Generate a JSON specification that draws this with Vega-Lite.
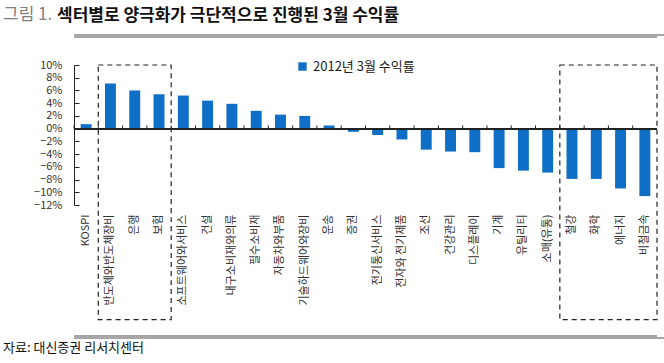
{
  "$schema": "https://vega.github.io/schema/vega-lite/v6.json",
  "padding": {"top": 6, "left": 0, "right": 0, "bottom": 0},
  "background": "white",
  "spacing": 0,
  "columns": 1,
  "align": "none",
  "title": {
    "text": "그림 1.",
    "anchor": "start",
    "frame": "group",
    "dx": -71,
    "offset": -17,
    "fontSize": 17,
    "fontWeight": "normal",
    "color": "#808080"
  },
  "config": {
    "view": {"stroke": null},
    "font": "Noto Sans CJK KR"
  },
  "concat": [
    {
      "width": 590,
      "height": 1,
      "data": {"values": [{"start": 0, "end": 1, "line": 1}]},
      "title": {
        "text": "섹터별로 양극화가 극단적으로 진행된 3월 수익률",
        "anchor": "start",
        "frame": "group",
        "dx": -17,
        "offset": 9,
        "fontSize": 17,
        "fontWeight": "bold",
        "color": "#111111"
      },
      "mark": {"type": "rule", "color": "#8a8a8a", "strokeWidth": 1.5, "clip": false},
      "encoding": {
        "x": {"field": "start", "type": "quantitative", "scale": {"domain": [0, 1]}, "axis": null},
        "x2": {"field": "end"},
        "y": {"field": "line", "type": "quantitative", "scale": {"domain": [0, 1]}, "axis": null}
      }
    },
    {
      "width": 583,
      "height": 140,
      "data": {"values": [
        {"sector": "KOSPI", "ret": 0.7},
        {"sector": "반도체와반도체장비", "ret": 7.1},
        {"sector": "은행", "ret": 6.0},
        {"sector": "보험", "ret": 5.4},
        {"sector": "소프트웨어와서비스", "ret": 5.2},
        {"sector": "건설", "ret": 4.4},
        {"sector": "내구소비재와의류", "ret": 3.9},
        {"sector": "필수소비재", "ret": 2.8},
        {"sector": "자동차와부품", "ret": 2.2},
        {"sector": "기술하드웨어와장비", "ret": 2.0},
        {"sector": "운송", "ret": 0.5},
        {"sector": "증권", "ret": -0.5},
        {"sector": "전기통신서비스", "ret": -1.0},
        {"sector": "전자와 전기제품", "ret": -1.7},
        {"sector": "조선", "ret": -3.3},
        {"sector": "건강관리", "ret": -3.6},
        {"sector": "디스플레이", "ret": -3.7},
        {"sector": "기계", "ret": -6.2},
        {"sector": "유틸리티", "ret": -6.6},
        {"sector": "소매(유통)", "ret": -6.9},
        {"sector": "철강", "ret": -7.9},
        {"sector": "화학", "ret": -7.9},
        {"sector": "에너지", "ret": -9.4},
        {"sector": "비철금속", "ret": -10.6}
      ]},
      "layer": [
        {
          "mark": {"type": "bar", "width": {"band": 0.45}, "color": "#0f6ec6"},
          "encoding": {
            "x": {
              "field": "sector", "type": "nominal", "title": null,
              "scale": {
                "domain": ["KOSPI", "반도체와반도체장비", "은행", "보험", "소프트웨어와서비스", "건설", "내구소비재와의류", "필수소비재", "자동차와부품", "기술하드웨어와장비", "운송", "증권", "전기통신서비스", "전자와 전기제품", "조선", "건강관리", "디스플레이", "기계", "유틸리티", "소매(유통)", "철강", "화학", "에너지", "비철금속"],
                "paddingInner": 0, "paddingOuter": 0
              },
              "axis": {
                "labelAngle": -90, "labelFontSize": 11, "labelColor": "#333333",
                "labelPadding": 9, "ticks": false, "domain": false, "labelLimit": 200, "grid": false
              }
            },
            "y": {
              "field": "ret", "type": "quantitative", "title": null,
              "scale": {"domain": [-12, 10], "nice": false, "zero": false},
              "axis": {
                "values": [-12, -10, -8, -6, -4, -2, 0, 2, 4, 6, 8, 10],
                "tickCount": 12,
                "format": "d",
                "labelExpr": "datum.label + '%'",
                "labelOverlap": false, "grid": false,
                "domain": true, "ticks": true,
                "tickSize": -5, "tickColor": "#222222", "domainColor": "#222222",
                "labelPadding": 17, "labelFontSize": 11, "labelColor": "#333333",
                "minExtent": 74
              }
            },
            "color": {
              "datum": "2012년 3월 수익률",
              "scale": {"range": ["#0f6ec6"]},
              "legend": {
                "title": null, "orient": "none", "legendX": 222, "legendY": 25,
                "symbolType": "square", "symbolSize": 70, "symbolStrokeWidth": 0,
                "labelFontSize": 13, "labelColor": "#222222"
              }
            }
          }
        },
        {
          "mark": {"type": "rule", "color": "#222222", "strokeWidth": 1},
          "encoding": {"y": {"datum": 0, "type": "quantitative"}}
        },
        {
          "mark": {"type": "rule", "color": "#222222", "strokeWidth": 1},
          "encoding": {
            "x": {"field": "sector", "type": "nominal", "bandPosition": 0},
            "y": {"datum": 0, "type": "quantitative"},
            "y2": {"datum": 0.5}
          }
        },
        {
          "data": {"values": [{"edge": 14.4}, {"edge": -32.6}]},
          "mark": {"type": "rule", "color": "#8a8a8a", "strokeWidth": 1.5, "clip": false},
          "encoding": {"y": {"field": "edge", "type": "quantitative", "title": null}}
        },
        {
          "data": {"values": [
            {"from": "반도체와반도체장비", "to": "보험", "top": 10, "bottom": -30},
            {"from": "철강", "to": "비철금속", "top": 10, "bottom": -30}
          ]},
          "mark": {"type": "rect", "fillOpacity": 0, "stroke": "#222222", "strokeWidth": 1.2, "strokeDash": [5, 4], "clip": false},
          "encoding": {
            "x": {"field": "from", "type": "nominal", "bandPosition": 0, "title": null},
            "x2": {"field": "to", "bandPosition": 1},
            "y": {"field": "top", "type": "quantitative", "title": null},
            "y2": {"field": "bottom"}
          }
        }
      ]
    },
    {
      "width": 590,
      "height": 1,
      "data": {"values": [{"start": 0, "end": 1, "line": 1}]},
      "title": {
        "text": "자료: 대신증권 리서치센터",
        "orient": "bottom",
        "anchor": "start",
        "frame": "group",
        "dx": -71,
        "offset": 3,
        "fontSize": 13,
        "fontWeight": "normal",
        "color": "#111111"
      },
      "mark": {"type": "rule", "color": "#8a8a8a", "strokeWidth": 1.5, "clip": false},
      "encoding": {
        "x": {"field": "start", "type": "quantitative", "scale": {"domain": [0, 1]}, "axis": null},
        "x2": {"field": "end"},
        "y": {"field": "line", "type": "quantitative", "scale": {"domain": [0, 1]}, "axis": null}
      }
    }
  ]
}
